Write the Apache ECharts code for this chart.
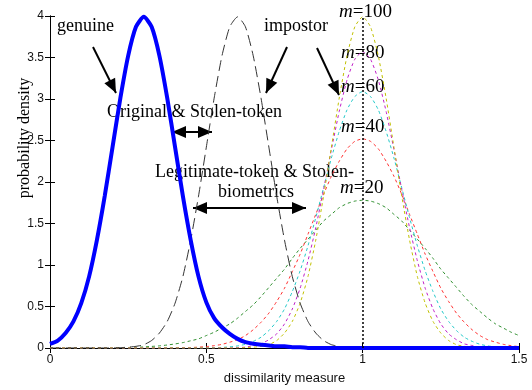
<!DOCTYPE html>
<html>
<head>
<meta charset="utf-8">
<script src="https://cdn.jsdelivr.net/npm/echarts@6/dist/echarts.min.js"></script>
<style>
  html, body { margin: 0; padding: 0; background: #fff; }
  #main { width: 532px; height: 390px; }
</style>
</head>
<body>
<div id="main"></div>
<script>
// x positions of the sampled points (dissimilarity measure)
const xs = [0, 0.025, 0.05, 0.075, 0.1, 0.125, 0.15, 0.175, 0.2, 0.225, 0.25, 0.275, 0.3, 0.325, 0.35, 0.375, 0.4, 0.425, 0.45, 0.475,
  0.5, 0.525, 0.55, 0.575, 0.6, 0.625, 0.65, 0.675, 0.7, 0.725, 0.75, 0.775, 0.8, 0.825, 0.85, 0.875, 0.9, 0.925, 0.95, 0.975,
  1, 1.025, 1.05, 1.075, 1.1, 1.125, 1.15, 1.175, 1.2, 1.225, 1.25, 1.275, 1.3, 1.325, 1.35, 1.375, 1.4, 1.425, 1.45, 1.475, 1.5]

const genuine = [0.05, 0.09, 0.18, 0.32, 0.54, 0.86, 1.30, 1.83, 2.42, 3.01, 3.52, 3.87, 3.99, 3.87, 3.52, 3.01, 2.42, 1.83, 1.30, 0.86,
  0.55, 0.36, 0.25, 0.17, 0.11, 0.07, 0.05, 0.04, 0.03, 0.02, 0.02, 0.01, 0.01, 0, 0, 0, 0, 0, 0, 0,
  0, 0, 0, 0, 0, 0, 0, 0, 0, 0, 0, 0, 0, 0, 0, 0, 0, 0, 0, 0, 0]

const impostor = [0, 0, 0, 0, 0, 0, 0, 0, 0, 0.004, 0.01, 0.02, 0.04, 0.09, 0.18, 0.32, 0.54, 0.86, 1.30, 1.83,
  2.42, 3.01, 3.52, 3.87, 3.99, 3.87, 3.52, 3.01, 2.42, 1.83, 1.30, 0.86, 0.54, 0.32, 0.18, 0.09, 0.04, 0.02, 0.01, 0,
  0, 0, 0, 0, 0, 0, 0, 0, 0, 0, 0, 0, 0, 0, 0, 0, 0, 0, 0, 0, 0]

const m20 = [0, 0, 0, 0, 0, 0, 0, 0.001, 0.002, 0.004, 0.006, 0.009, 0.013, 0.019, 0.026, 0.036, 0.049, 0.065, 0.087, 0.11,
  0.15, 0.19, 0.24, 0.29, 0.36, 0.44, 0.52, 0.62, 0.73, 0.84, 0.95, 1.08, 1.20, 1.31, 1.42, 1.53, 1.61, 1.69, 1.74, 1.77,
  1.78, 1.77, 1.74, 1.69, 1.61, 1.53, 1.42, 1.31, 1.20, 1.08, 0.95, 0.84, 0.73, 0.62, 0.52, 0.44, 0.36, 0.29, 0.24, 0.19, 0.15]

const m40 = [0, 0, 0, 0, 0, 0, 0, 0, 0, 0, 0, 0, 0, 0, 0, 0, 0.002, 0.004, 0.006, 0.01,
  0.017, 0.028, 0.044, 0.07, 0.10, 0.15, 0.22, 0.31, 0.42, 0.56, 0.72, 0.92, 1.13, 1.37, 1.61, 1.85, 2.07, 2.25, 2.40, 2.49,
  2.52, 2.49, 2.40, 2.25, 2.07, 1.85, 1.61, 1.37, 1.13, 0.92, 0.72, 0.56, 0.42, 0.31, 0.22, 0.15, 0.10, 0.07, 0.044, 0.028, 0.017]

const m60 = [0, 0, 0, 0, 0, 0, 0, 0, 0, 0, 0, 0, 0, 0, 0, 0, 0, 0, 0, 0,
  0.002, 0.004, 0.007, 0.014, 0.025, 0.045, 0.08, 0.13, 0.21, 0.32, 0.47, 0.68, 0.93, 1.23, 1.57, 1.93, 2.29, 2.61, 2.87, 3.03,
  3.09, 3.03, 2.87, 2.61, 2.29, 1.93, 1.57, 1.23, 0.93, 0.68, 0.47, 0.32, 0.21, 0.13, 0.08, 0.045, 0.025, 0.014, 0.007, 0.004, 0.002]

const m80 = [0, 0, 0, 0, 0, 0, 0, 0, 0, 0, 0, 0, 0, 0, 0, 0, 0, 0, 0, 0,
  0, 0, 0, 0, 0.006, 0.01, 0.03, 0.05, 0.10, 0.17, 0.29, 0.47, 0.72, 1.05, 1.45, 1.91, 2.39, 2.85, 3.23, 3.48,
  3.57, 3.48, 3.23, 2.85, 2.39, 1.91, 1.45, 1.05, 0.72, 0.47, 0.29, 0.17, 0.10, 0.05, 0.03, 0.01, 0.006, 0, 0, 0, 0]

const m100 = [0, 0, 0, 0, 0, 0, 0, 0, 0, 0, 0, 0, 0, 0, 0, 0, 0, 0, 0, 0,
  0, 0, 0, 0, 0, 0.004, 0.01, 0.02, 0.04, 0.09, 0.18, 0.32, 0.54, 0.86, 1.30, 1.83, 2.42, 3.01, 3.52, 3.87,
  3.99, 3.87, 3.52, 3.01, 2.42, 1.83, 1.30, 0.86, 0.54, 0.32, 0.18, 0.09, 0.04, 0.02, 0.01, 0.004, 0, 0, 0, 0, 0]

const xTicks = [0, 0.5, 1, 1.5]
const yTicks = [0, 0.5, 1, 1.5, 2, 2.5, 3, 3.5, 4]
const centreX = 1

const serif = '"Liberation Serif", "DejaVu Serif", serif'
const sans = '"Liberation Sans", Arial, sans-serif'

const pairs = vals => xs.map((x, i) => [x, vals[i]])

const myChart = echarts.init(document.getElementById('main'))

// arrow from (x1,y1) to (x2,y2), head at the end (and at start if both)
function arrow(x1, y1, x2, y2, both) {
  const out = []
  const hl = 14, hw = 6
  const ang = Math.atan2(y2 - y1, x2 - x1)
  const head = (tx, ty, a) => {
    const bx = tx - hl * Math.cos(a), by = ty - hl * Math.sin(a)
    return {
      type: 'polygon',
      shape: { points: [[tx, ty], [bx + hw * Math.sin(a), by - hw * Math.cos(a)], [bx - hw * Math.sin(a), by + hw * Math.cos(a)]] },
      style: { fill: '#000' }
    }
  }
  out.push({ type: 'line', shape: { x1: x1, y1: y1, x2: x2, y2: y2 }, style: { stroke: '#000', lineWidth: 2 } })
  out.push(head(x2, y2, ang))
  if (both) out.push(head(x1, y1, ang + Math.PI))
  return out
}

function label(text, x, y, size, align) {
  return {
    type: 'text', x: x, y: y,
    style: { text: text, font: size + 'px ' + serif, fill: '#000', textAlign: align || 'left', textVerticalAlign: 'middle' }
  }
}

function mLabel(n, x, y) {
  return {
    type: 'text', x: x, y: y,
    style: {
      text: '{i|m}{n|=' + n + '}', textAlign: 'left', textVerticalAlign: 'middle',
      rich: {
        i: { fontStyle: 'italic', fontFamily: serif, fontSize: 19, fill: '#000', color: '#000' },
        n: { fontFamily: serif, fontSize: 19, fill: '#000', color: '#000' }
      }
    }
  }
}

const graphics = [].concat(
  [label('genuine', 57, 26, 18)],
  arrow(93, 47, 116, 93),
  [label('impostor', 264, 26, 18)],
  arrow(287, 47, 266, 93),
  arrow(317, 48, 339, 95),
  [label('Original & Stolen-token', 107, 112, 18)],
  arrow(172, 132, 212, 132, true),
  [label('Legitimate-token & Stolen-', 155, 172, 18)],
  [label('biometrics', 218, 192, 18)],
  arrow(193, 208, 306, 208, true),
  [mLabel(100, 339, 12), mLabel(80, 341, 53), mLabel(60, 341, 87), mLabel(40, 341, 127), mLabel(20, 340, 188)],
  [{
    type: 'text', x: 25, y: 138, rotation: Math.PI / 2,
    style: { text: 'probability density', font: '16px ' + serif, fill: '#000', textAlign: 'center', textVerticalAlign: 'middle' }
  }]
)

const dashed = (name, data, color, dash, width) => ({
  name: name, type: 'line', data: pairs(data), showSymbol: false, symbol: 'none', smooth: 0.2,
  lineStyle: { color: color, width: width || 1, type: dash }, silent: true, animation: false
})

const option = {
  animation: false,
  grid: { left: 50, right: 13, top: 16, bottom: 42 },
  xAxis: [{
    type: 'value', min: 0, max: 1.5, interval: 0.5,
    name: 'dissimilarity measure', nameLocation: 'middle', nameGap: 24,
    nameTextStyle: { fontFamily: sans, fontSize: 13, color: '#111' },
    axisLine: { lineStyle: { color: '#000' } },
    axisTick: { inside: true, length: 5, lineStyle: { color: '#000' } },
    axisLabel: { fontFamily: sans, fontSize: 12, color: '#111', margin: 6, formatter: v => xTicks.includes(v) ? String(v) : '' },
    splitLine: { show: false }
  }, {
    type: 'value', position: 'top', min: 0, max: 1.5, interval: 0.5,
    axisLine: { show: true, lineStyle: { color: '#000' } },
    axisTick: { inside: true, length: 5, lineStyle: { color: '#000' } },
    axisLabel: { show: false }, splitLine: { show: false }
  }],
  yAxis: [{
    type: 'value', min: 0, max: 4, interval: 0.5,
    axisLine: { show: true, lineStyle: { color: '#000' } },
    axisTick: { show: true, inside: true, length: 5, lineStyle: { color: '#000' } },
    axisLabel: { fontFamily: sans, fontSize: 12, color: '#111', margin: 6, formatter: v => yTicks.includes(v) ? String(v) : '' },
    splitLine: { show: false }
  }, {
    type: 'value', position: 'right', min: 0, max: 4, interval: 0.5,
    axisLine: { show: true, lineStyle: { color: '#000' } },
    axisTick: { show: true, inside: true, length: 5, lineStyle: { color: '#000' } },
    axisLabel: { show: false }, splitLine: { show: false }
  }],
  series: [
    dashed('m=20', m20, '#2f8f2f', [3, 3]),
    dashed('m=40', m40, '#ff3030', [3, 3]),
    dashed('m=60', m60, '#22c8c8', [3, 3]),
    dashed('m=80', m80, '#c020c8', [3, 3]),
    dashed('m=100', m100, '#c0c000', [3, 3]),
    dashed('impostor', impostor, '#333', [11, 5]),
    Object.assign(dashed('genuine', genuine, '#0000ff', 'solid', 4), {
      markLine: {
        silent: true, symbol: 'none', label: { show: false },
        lineStyle: { color: '#000', type: [2, 2], width: 1.5 },
        data: [{ xAxis: centreX }]
      }
    })
  ],
  graphic: graphics
}

option && myChart.setOption(option)
</script>
</body>
</html>
